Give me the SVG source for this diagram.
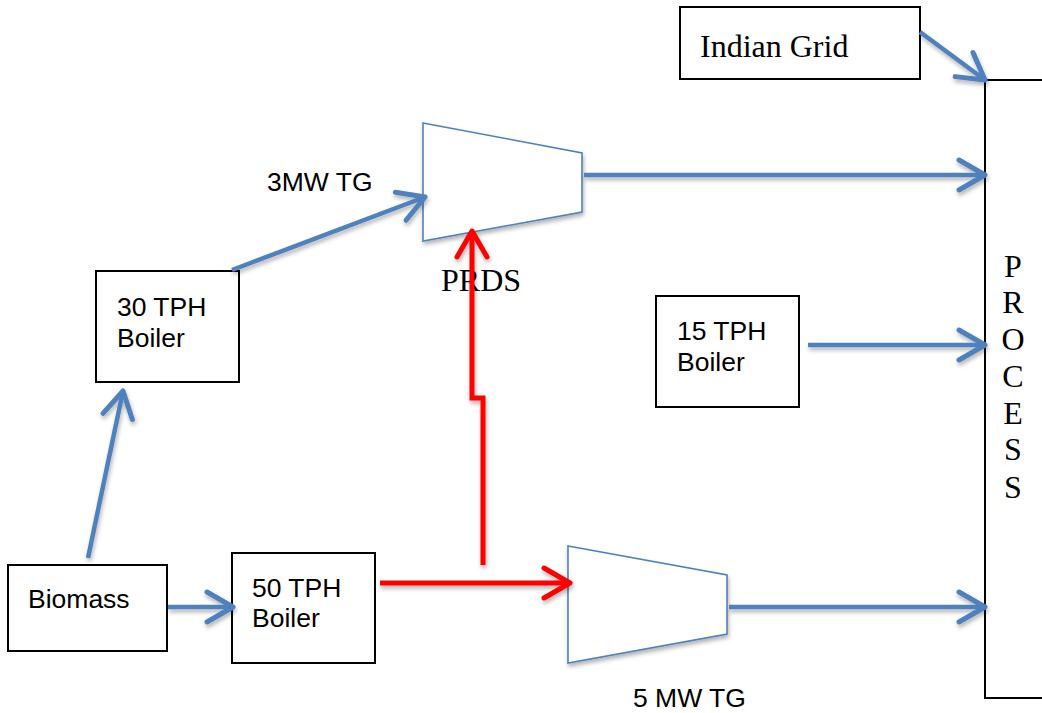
<svg xmlns="http://www.w3.org/2000/svg" width="1042" height="713" viewBox="0 0 1042 713">
<defs>
<filter id="sh" x="-20%" y="-20%" width="140%" height="160%">
<feDropShadow dx="1" dy="3" stdDeviation="2" flood-color="#000" flood-opacity="0.3"/>
</filter>
<marker id="ab" markerUnits="userSpaceOnUse" markerWidth="60" markerHeight="60" viewBox="-30 -30 60 60" refX="0" refY="0" orient="auto" overflow="visible">
<path d="M-26,-15 L0,0 L-26,15" fill="none" stroke="#4F81BD" stroke-width="5" stroke-linecap="round" stroke-linejoin="round"/>
</marker>
<marker id="ar" markerUnits="userSpaceOnUse" markerWidth="60" markerHeight="60" viewBox="-30 -30 60 60" refX="0" refY="0" orient="auto" overflow="visible">
<path d="M-26,-15 L0,0 L-26,15" fill="none" stroke="#FF0000" stroke-width="5" stroke-linecap="round" stroke-linejoin="round"/>
</marker>
</defs>
<style>
.box{fill:#fff;stroke:#000;stroke-width:2}
.tg{fill:#fff;stroke:#4F81BD;stroke-width:1.6}
.sans{font-family:"Liberation Sans",Arial,sans-serif;font-size:26.5px;fill:#000}
.serif{font-family:"Liberation Serif","Times New Roman",serif;font-size:32px;fill:#000}
.bl{fill:none;stroke:#4F81BD;stroke-width:4.5;marker-end:url(#ab)}
.rd{fill:none;stroke:#FF0000;stroke-width:5}
.pl{fill:none;stroke:#000;stroke-width:2}
</style>
<rect width="1042" height="713" fill="#fff"/>

<g id="process">
<path class="pl" d="M1042,80 L985,80 L985,698 L1042,698"/>
<g class="serif" font-size="30" text-anchor="middle">
<text x="1013" y="277">P</text>
<text x="1013" y="313">R</text>
<text x="1013" y="350">O</text>
<text x="1013" y="387">C</text>
<text x="1013" y="424">E</text>
<text x="1013" y="460">S</text>
<text x="1013" y="498">S</text>
</g>
</g>

<g id="indian-grid">
<rect class="box" x="680" y="7" width="240" height="72"/>
<text class="serif" x="700" y="57">Indian Grid</text>
</g>

<g id="tg3">
<polygon class="tg" points="423,123 582,153 582,212 423,241" filter="url(#sh)"/>
<text class="sans" x="267" y="191">3MW TG</text>
</g>

<g id="prds">
<text class="serif" x="441" y="291">PRDS</text>
</g>

<g id="boiler30">
<rect class="box" x="96" y="271" width="143" height="111"/>
<text class="sans" x="117" y="316">30 TPH</text>
<text class="sans" x="117" y="347">Boiler</text>
</g>

<g id="boiler15">
<rect class="box" x="656" y="296" width="143" height="111"/>
<text class="sans" x="677" y="340">15 TPH</text>
<text class="sans" x="677" y="371">Boiler</text>
</g>

<g id="biomass">
<rect class="box" x="8" y="565" width="159" height="86"/>
<text class="sans" x="28" y="608">Biomass</text>
</g>

<g id="boiler50">
<rect class="box" x="232" y="553" width="143" height="110"/>
<text class="sans" x="252" y="597">50 TPH</text>
<text class="sans" x="252" y="627">Boiler</text>
</g>

<g id="tg5">
<polygon class="tg" points="568,546 727,575 727,634 568,663" filter="url(#sh)"/>
<text class="sans" x="633" y="707">5 MW TG</text>
</g>

<g id="connectors" filter="url(#sh)">
<line class="bl" x1="920" y1="32" x2="985" y2="80"/>
<line class="bl" x1="584" y1="175" x2="985" y2="175"/>
<line class="bl" x1="232" y1="270" x2="425" y2="197"/>
<line class="bl" x1="808" y1="345" x2="985" y2="345"/>
<line class="bl" x1="88" y1="558" x2="123" y2="391"/>
<line class="bl" x1="168" y1="607" x2="233" y2="607"/>
<line class="bl" x1="729" y1="607" x2="985" y2="607"/>
<line class="rd" x1="380" y1="583" x2="570" y2="583" marker-end="url(#ar)"/>
<polyline class="rd" points="483,565 483,398 472,398 472,231" marker-end="url(#ar)"/>
</g>
</svg>
